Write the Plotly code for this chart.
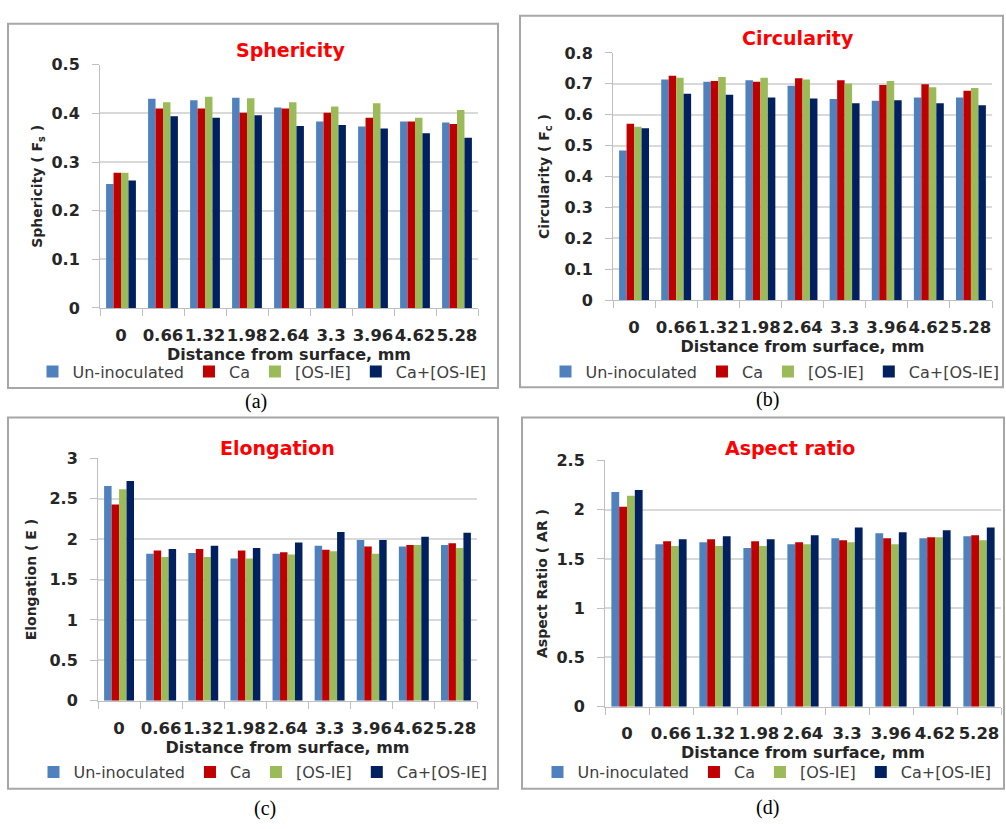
import plotly.graph_objects as go

# ---------------- data ----------------
categories = ["0", "0.66", "1.32", "1.98", "2.64", "3.3", "3.96", "4.62", "5.28"]
series_names = ["Un-inoculated", "Ca", "[OS-IE]", "Ca+[OS-IE]"]
series_colors = ["#4F81BD", "#C00000", "#9BBB59", "#002060"]

sph_uninoc = [0.255, 0.430, 0.427, 0.432, 0.412, 0.383, 0.373, 0.383, 0.381]
sph_ca     = [0.278, 0.410, 0.410, 0.401, 0.410, 0.401, 0.391, 0.383, 0.378]
sph_os     = [0.278, 0.423, 0.434, 0.431, 0.423, 0.414, 0.421, 0.391, 0.407]
sph_caos   = [0.262, 0.394, 0.391, 0.396, 0.374, 0.376, 0.369, 0.359, 0.350]

cir_uninoc = [0.484, 0.714, 0.707, 0.712, 0.694, 0.651, 0.645, 0.656, 0.656]
cir_ca     = [0.571, 0.726, 0.709, 0.707, 0.718, 0.712, 0.696, 0.699, 0.678]
cir_os     = [0.561, 0.720, 0.722, 0.720, 0.714, 0.701, 0.709, 0.689, 0.687]
cir_caos   = [0.556, 0.668, 0.665, 0.656, 0.653, 0.637, 0.647, 0.637, 0.631]

elo_uninoc = [2.66, 1.82, 1.83, 1.76, 1.82, 1.92, 1.99, 1.91, 1.93]
elo_ca     = [2.43, 1.86, 1.88, 1.86, 1.84, 1.87, 1.91, 1.93, 1.95]
elo_os     = [2.62, 1.78, 1.78, 1.76, 1.81, 1.85, 1.82, 1.93, 1.89]
elo_caos   = [2.72, 1.88, 1.92, 1.89, 1.96, 2.09, 1.99, 2.03, 2.08]

ar_uninoc = [2.18, 1.65, 1.67, 1.61, 1.65, 1.71, 1.76, 1.71, 1.73]
ar_ca     = [2.03, 1.68, 1.70, 1.68, 1.67, 1.69, 1.71, 1.72, 1.74]
ar_os     = [2.14, 1.63, 1.63, 1.63, 1.65, 1.67, 1.65, 1.72, 1.69]
ar_caos   = [2.20, 1.70, 1.73, 1.70, 1.74, 1.82, 1.77, 1.79, 1.82]

panel_titles = ["Sphericity", "Circularity", "Elongation", "Aspect ratio"]
y_titles = ["Sphericity ( F<sub>s</sub> )", "Circularity ( F<sub>c</sub> )",
            "Elongation ( E )", "Aspect Ratio ( AR )"]
y_ranges = [[0, 0.5], [0, 0.8], [0, 3], [0, 2.5]]
y_dticks = [0.1, 0.1, 0.5, 0.5]
captions = ["(a)", "(b)", "(c)", "(d)"]
x_title = "Distance from surface, mm"

panel_series = [
    [sph_uninoc, sph_ca, sph_os, sph_caos],
    [cir_uninoc, cir_ca, cir_os, cir_caos],
    [elo_uninoc, elo_ca, elo_os, elo_caos],
    [ar_uninoc, ar_ca, ar_os, ar_caos],
]

# ---------------- layout geometry (pixels) ----------------
W, H = 1006, 829
def fx(px):
    return px / W
def fy(py):
    return 1 - py / H

plot_boxes = [  # x0, x1, ytop, ybottom of plotting area
    (100, 478, 57, 306),
    (613, 992, 45, 298),
    (98, 477, 460, 708),
    (605, 1001, 462, 714),
]
frame_boxes = [  # chart frame
    (8, 498, 15, 388),
    (520, 1003, 7, 387),
    (8, 498, 418, 798),
    (522, 1004, 418, 798),
]
y_title_standoff = [5, 11, 9, 5]
title_pos = [(290, 42), (798, 30), (277, 449), (790, 449)]
legend_pos = [(262, 371), (775, 371), (263, 781), (767, 781)]
caption_pos = [(256, 402), (767, 400), (265, 818), (767, 817)]

FONT = "DejaVu Sans"
TXT = "#262626"
AXC = "#BFBFBF"
GRID = "#D9D9D9"

fig = go.Figure()
layout = dict(
    width=W, height=H,
    margin=dict(l=0, r=0, t=0, b=0),
    paper_bgcolor="white", plot_bgcolor="white",
    barmode="group", bargap=0.29, bargroupgap=0.0,
    font=dict(family=FONT, color=TXT),
    showlegend=True,
)
annotations = []
shapes = []

for p in range(4):
    ax = "" if p == 0 else str(p + 1)
    leg = "legend" if p == 0 else "legend" + str(p + 1)
    for s in range(4):
        fig.add_trace(go.Bar(
            x=categories, y=panel_series[p][s], name=series_names[s],
            marker=dict(color=series_colors[s], line=dict(width=0)),
            xaxis="x" + ax, yaxis="y" + ax, legend=leg,
        ))
    x0, x1, yt, yb = plot_boxes[p]
    layout["xaxis" + ax] = dict(
        domain=[fx(x0), fx(x1)], anchor="y" + ax, type="category",
        tickson="boundaries", ticks="outside", ticklen=7, tickcolor=AXC,
        showline=True, linecolor=AXC, linewidth=1, showgrid=False,
        tickangle=0, ticklabelstandoff=12,
        tickfont=dict(family=FONT, size=16.5, color=TXT, weight="bold"),
        title=dict(text="<b>" + x_title + "</b>", standoff=1,
                   font=dict(family=FONT, size=16, color=TXT)),
        fixedrange=True,
    )
    layout["yaxis" + ax] = dict(
        domain=[fy(yb), fy(yt)], anchor="x" + ax, range=y_ranges[p],
        dtick=y_dticks[p], tick0=0, ticks="outside", ticklen=7, tickcolor=AXC,
        showline=True, linecolor=AXC, linewidth=1,
        showgrid=True, gridcolor=GRID, gridwidth=1.5, zeroline=False,
        tickfont=dict(family=FONT, size=16, color=TXT, weight="bold"),
        ticklabelstandoff=9,
        title=dict(text="<b>" + y_titles[p] + "</b>", standoff=y_title_standoff[p],
                   font=dict(family=FONT, size=14, color=TXT)),
        fixedrange=True,
    )
    lx, ly = legend_pos[p]
    layout[leg] = dict(
        orientation="h", x=fx(lx), y=fy(ly), xanchor="center", yanchor="middle",
        font=dict(family=FONT, size=16, color="#404040"),
        bgcolor="rgba(0,0,0,0)", traceorder="normal", itemsizing="constant",
        tracegroupgap=0,
    )
    tx, ty = title_pos[p]
    annotations.append(dict(
        text="<b>" + panel_titles[p] + "</b>", x=fx(tx), y=fy(ty),
        xref="paper", yref="paper", showarrow=False, xanchor="center", yanchor="middle",
        font=dict(family=FONT, size=19, color="#FF0000"),
    ))
    cx, cy = caption_pos[p]
    annotations.append(dict(
        text=captions[p], x=fx(cx), y=fy(cy), xref="paper", yref="paper",
        showarrow=False, xanchor="center", yanchor="middle",
        font=dict(family="Liberation Serif", size=20, color="black"),
    ))
    bx0, bx1, by0, by1 = frame_boxes[p]
    shapes.append(dict(
        type="rect", xref="paper", yref="paper",
        x0=fx(bx0), x1=fx(bx1), y0=fy(by1), y1=fy(by0),
        line=dict(color="#A6A6A6", width=2), fillcolor="rgba(0,0,0,0)", layer="below",
    ))

layout["annotations"] = annotations
layout["shapes"] = shapes
fig.update_layout(**layout)
fig.write_html(
    "out.html",
    config={"displayModeBar": False},
    post_script="document.body.style.margin='0';document.body.style.overflow='hidden';",
)
